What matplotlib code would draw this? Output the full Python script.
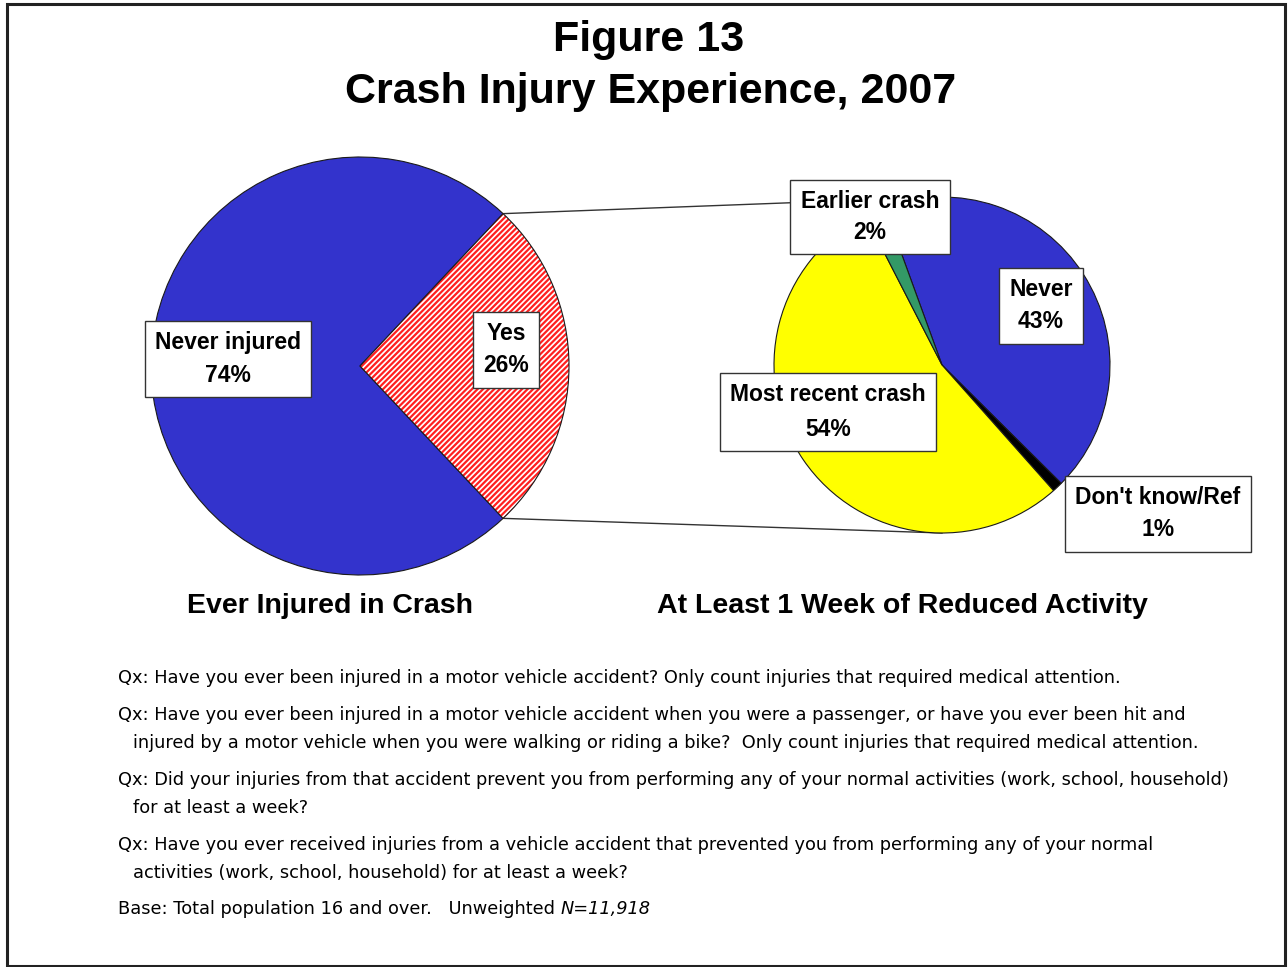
import numpy as np
import matplotlib.pyplot as plt
from matplotlib.patches import Wedge, Rectangle

plt.rcParams['font.family'] = ['Liberation Sans', 'DejaVu Sans']
plt.rcParams['hatch.linewidth'] = 1.6

# Data
ever_labels = ['Never injured', 'Yes']
ever_values = [74, 26]
ever_colors = ['#3333CC', 'white']

week_labels = ['Never', "Don't know/Ref", 'Most recent crash', 'Earlier crash']
week_values = [43, 1, 54, 2]
week_colors = ['#3333CC', '#000000', '#FFFF00', '#339966']

notes = [
    ("Qx: Have you ever been injured in a motor vehicle accident? Only count injuries that required medical attention.", None),
    ("Qx: Have you ever been injured in a motor vehicle accident when you were a passenger, or have you ever been hit and",
     "injured by a motor vehicle when you were walking or riding a bike?  Only count injuries that required medical attention."),
    ("Qx: Did your injuries from that accident prevent you from performing any of your normal activities (work, school, household)",
     "for at least a week?"),
    ("Qx: Have you ever received injuries from a vehicle accident that prevented you from performing any of your normal",
     "activities (work, school, household) for at least a week?"),
]
base_text = 'Base: Total population 16 and over.   Unweighted '
base_n = 'N=11,918'

H = 967  # figure height in pixels, used to flip y

fig = plt.figure(figsize=(12.88, 9.67), dpi=100)
ax = fig.add_axes([0, 0, 1, 1])

# Left pie
left_c = (360, H - 366)
left_r = 209
yes_span = 360 * ever_values[1] / 100
wl, _ = ax.pie(ever_values, colors=ever_colors, startangle=yes_span / 2,
               center=left_c, radius=left_r, counterclock=True,
               wedgeprops=dict(edgecolor='#1a1a1a', linewidth=0.8))
yes = wl[1]
yes.set_edgecolor('#FF2020')
yes.set_hatch('//////')
yes.set_linewidth(0)
ax.add_patch(Wedge(left_c, left_r, yes.theta1, yes.theta2, fill=False,
                   edgecolor='#1a1a1a', linewidth=0.8))

# Right pie
right_c = (942, H - 365)
right_r = 168
wr, _ = ax.pie(week_values, colors=week_colors, startangle=110,
               center=right_c, radius=right_r, counterclock=False,
               wedgeprops=dict(edgecolor='#1a1a1a', linewidth=0.8))

# Connector lines
for ang_l, ang_r in [(yes.theta2, 90), (yes.theta1, 270)]:
    x0 = left_c[0] + left_r * np.cos(np.radians(ang_l))
    y0 = left_c[1] + left_r * np.sin(np.radians(ang_l))
    x1 = right_c[0] + right_r * np.cos(np.radians(ang_r))
    y1 = right_c[1] + right_r * np.sin(np.radians(ang_r))
    ax.plot([x0, x1], [y0, y1], color='#333333', lw=1, zorder=0.5)

ax.set_xlim(0, 1288)
ax.set_ylim(0, H)
ax.set_aspect('auto')
ax.axis('off')

def label(x, y, text, pad=0.45, ls=1.5):
    box = dict(boxstyle=f'square,pad={pad}', facecolor='white', edgecolor='#333333', lw=1)
    ax.text(x, H - y, text, ha='center', va='center', fontsize=16.5, fontweight='bold',
            linespacing=ls, bbox=box, zorder=5)

ever_pos = [(228, 359), (506, 350)]
for lab, val, (x, y) in zip(ever_labels, ever_values, ever_pos):
    label(x, y, f"{lab}\n{val}%")

week_pos = [(1041, 306), (1158, 514), (828, 412), (870, 217)]
week_ls = [1.5, 1.5, 1.65, 1.45]
for lab, val, (x, y), ls in zip(week_labels, week_values, week_pos, week_ls):
    label(x, y, f"{lab}\n{val}%", ls=ls)

# Titles
ax.text(649, H - 40, 'Figure 13', ha='center', va='center', fontsize=31, fontweight='bold')
ax.text(651, H - 92, 'Crash Injury Experience, 2007', ha='center', va='center',
        fontsize=31, fontweight='bold')
ax.text(330, H - 606, 'Ever Injured in Crash', ha='center', va='center',
        fontsize=20.5, fontweight='bold')
ax.text(902, H - 606, 'At Least 1 Week of Reduced Activity', ha='center', va='center',
        fontsize=20.5, fontweight='bold')

# Notes
note_kw = dict(ha='left', va='center', fontsize=12.8, family=['DejaVu Sans'])
y = 678
for first, second in notes:
    ax.text(118, H - y, first, **note_kw)
    if second:
        y += 28
        ax.text(133, H - y, second, **note_kw)
    y += 37
t = ax.text(118, H - 909, base_text, **note_kw)
fig.canvas.draw()
bb = t.get_window_extent()
ax.text(bb.x1, H - 909, base_n, style='italic', **note_kw)

# Outer frame
fig.patches.append(Rectangle((7 / 1288, 1 / H), 1278 / 1288, (H - 5) / H,
                             transform=fig.transFigure, fill=False,
                             edgecolor='#222222', linewidth=2.2))

fig.savefig('out.png', dpi=100)
